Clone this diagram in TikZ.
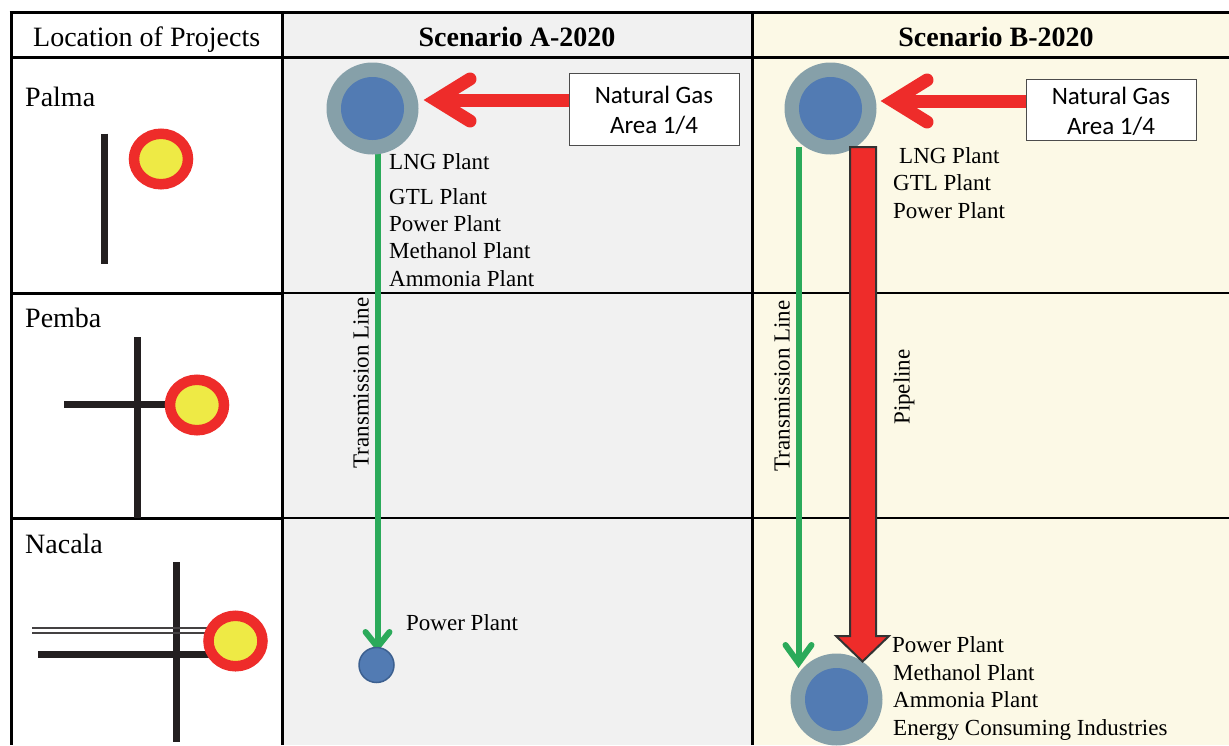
\documentclass[tikz,border=0pt]{standalone}
\usepackage{fontspec}
\setmainfont{Liberation Serif}
\newfontfamily\boxfont{Carlito}
\usetikzlibrary{shapes.geometric}
\definecolor{redc}{HTML}{EE2C2A}
\definecolor{yelc}{HTML}{EEEA45}
\definecolor{greyc}{HTML}{86A0A9}
\definecolor{bluec}{HTML}{527BB3}
\definecolor{bluee}{HTML}{3C6090}
\definecolor{greenc}{HTML}{2BAA5A}
\definecolor{barc}{HTML}{231F20}
\definecolor{colA}{HTML}{F1F1F1}
\definecolor{colB}{HTML}{FCF9E6}
\tikzset{
 x=1pt,y=-1pt,
 rule/.style={line width=3pt,black},
 thinrule/.style={line width=1.4pt,black},
 road/.style={line width=7pt,barc},
 rail/.style={line width=2pt,barc!85},
 lbl/.style={inner sep=0pt,anchor=base west,font=\fontsize{23}{26}\selectfont},
 big/.style={inner sep=0pt,anchor=base west,font=\fontsize{28}{32}\selectfont},
 head/.style={inner sep=0pt,anchor=base,font=\fontsize{28}{32}\selectfont\bfseries},
 vert/.style={inner sep=0pt,rotate=90,anchor=center,font=\fontsize{23}{26}\selectfont},
 gasbox/.style={draw=black!70,line width=1pt,fill=white,inner sep=0pt,minimum width=170pt,align=center,font=\boxfont\fontsize{25}{30}\selectfont},
 halo/.style={circle,fill=greyc,minimum size=92pt,inner sep=0pt},
 core/.style={circle,fill=bluec,minimum size=63pt,inner sep=0pt},
 smallplant/.style={circle,fill=bluec,draw=bluee,line width=1.5pt,minimum size=35pt,inner sep=0pt},
 site/.style={ellipse,fill=yelc,draw=redc,line width=10.5pt,minimum width=54pt,minimum height=50.5pt,inner sep=0pt},
 gasline/.style={line width=13pt,redc},
 gashead/.style={line width=13pt,redc,line cap=round,miter limit=10},
 transline/.style={line width=6pt,greenc},
 transhead/.style={line width=6pt,greenc,line cap=round,miter limit=10},
 pipe/.style={draw=black!80,line width=2pt,fill=redc,miter limit=10},
}
\begin{document}
\begin{tikzpicture}
\useasboundingbox (0,0) rectangle (1229,745);
\clip (0,0) rectangle (1229,745);
% column fills
\fill[colA] (282,12) rectangle (752,745);
\fill[colB] (752,12) rectangle (1229,745);
% rules
\draw[thinrule] (282,293) -- (1229,293);
\draw[thinrule] (282,518) -- (1229,518);
\draw[rule] (11,57) -- (1229,57);
\draw[rule] (11,293) -- (282,293);
\draw[rule] (11,518) -- (282,518);
\draw[rule] (9.5,12.5) -- (1229,12.5);
\draw[rule] (11,11) -- (11,745);
\draw[rule] (282.5,11) -- (282.5,745);
\draw[rule] (752,11) -- (752,745);
% headers
\node[big] (hLoc) at (33,46) {Location of Projects};
\node[head] (hA) at (517,46) {Scenario A-2020};
\node[head] (hB) at (996,46) {Scenario B-2020};
% left column
\node[big] (nPalma) at (25,106) {Palma};
\node[big] (nPemba) at (25,327) {Pemba};
\node[big] (nNacala) at (25,553) {Nacala};
% Palma map
\draw[road] (104,133.5) -- (104,264);
\node[site] (sPalma) at (161,159) {};
% Pemba map
\draw[road] (137.5,337) -- (137.5,518);
\draw[road] (64,404.5) -- (175,404.5);
\node[site] (sPemba) at (197,405) {};
% Nacala map
\draw[road] (176.5,562) -- (176.5,742);
\draw[road] (38,654) -- (212,654);
\draw[rail] (32,627.5) -- (212,627.5);
\draw[rail] (32,632.5) -- (212,632.5);
\node[site] (sNacala) at (235.5,641) {};
% Scenario A
\coordinate (gA) at (377.5,150);
\coordinate (vA) at (377.5,647);
\coordinate (bA1) at (365.5,632);
\coordinate (bA2) at (389.5,632);
\draw[transline] (gA) -- (vA);
\draw[transhead] (bA1) -- (vA) -- (bA2);
\node[smallplant] (pA) at (376.5,665) {};
\node[halo] (haloA) at (372.5,108.5) {};
\node[core] (coreA) at (372.5,108.5) {};
\coordinate (vGA) at (436,100);
\coordinate (hGA1) at (470,79);
\coordinate (hGA2) at (470,121);
\draw[gashead] (hGA1) -- (vGA) -- (hGA2);
\node[gasbox,minimum height=72pt] (boxA) at (654,109) {\rule{0pt}{21pt}Natural Gas\\Area 1/4};
\draw[gasline] (boxA.west |- vGA) -- (vGA);
\node[lbl] (a1) at (389,169) {LNG Plant};
\node[lbl] (a2) at (389,204) {GTL Plant};
\node[lbl] (a3) at (389,231) {Power Plant};
\node[lbl] (a4) at (389,258) {Methanol Plant};
\node[lbl] (a5) at (389,286) {Ammonia Plant};
\node[lbl] (a6) at (406,630) {Power Plant};
\node[vert] (tA) at (361,383) {Transmission Line};
% Scenario B
\node[halo] (haloB2) at (836.5,699.5) {};
\node[core] (coreB2) at (836.5,699.5) {};
\coordinate (gB) at (798.5,147);
\coordinate (vB) at (798.5,663);
\coordinate (bB1) at (785.5,645);
\coordinate (bB2) at (811.5,645);
\draw[transline] (gB) -- (vB);
\draw[transhead] (bB1) -- (vB) -- (bB2);
\node[halo] (haloB) at (830.5,108.5) {};
\node[core] (coreB) at (830.5,108.5) {};
\coordinate (vGB) at (893,101);
\coordinate (hGB1) at (927,80);
\coordinate (hGB2) at (927,122);
\draw[gashead] (hGB1) -- (vGB) -- (hGB2);
\node[gasbox,minimum height=61pt] (boxB) at (1111,109.5) {\rule{0pt}{21pt}Natural Gas\\Area 1/4};
\draw[gasline] (boxB.west |- vGB) -- (vGB);
\draw[pipe] (850,147) -- (876,147) -- (876,636) -- (889,636) -- (862.5,661.5) -- (836,636) -- (850,636) -- cycle;
\node[lbl] (b1) at (899,163) {LNG Plant};
\node[lbl] (b2) at (893,190) {GTL Plant};
\node[lbl] (b3) at (893,218) {Power Plant};
\node[lbl] (b4) at (892,652) {Power Plant};
\node[lbl] (b5) at (893,680) {Methanol Plant};
\node[lbl] (b6) at (893,707) {Ammonia Plant};
\node[lbl] (b7) at (893,735) {Energy Consuming Industries};
\node[vert] (tB) at (782,386) {Transmission Line};
\node[vert] (tP) at (904,387) {Pipeline};
\end{tikzpicture}
\end{document}
